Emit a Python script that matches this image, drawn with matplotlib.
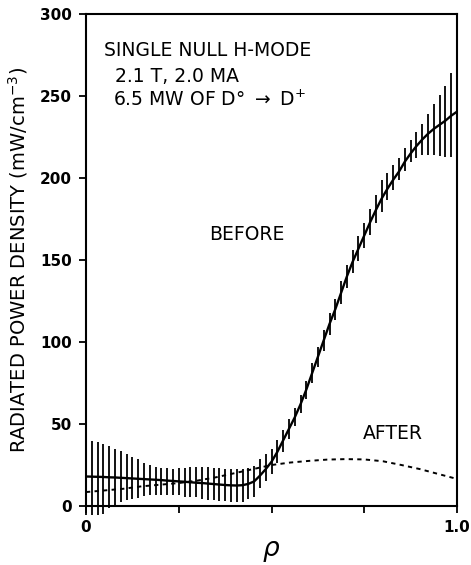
import numpy as np
import matplotlib.pyplot as plt

# radiated power density profile, before/after
rho = np.linspace(0, 1, 65)   # measurement grid, 1/64 spacing

power_before = [18.0, 17.9, 17.8, 17.7, 17.5, 17.4, 17.2, 17.0, 16.8, 16.6,
                16.4, 16.2, 16.0, 15.8, 15.5, 15.3, 15.0, 14.8, 14.5, 14.2,
                14.0, 13.7, 13.4, 13.1, 12.8, 12.6, 12.5, 12.7, 13.5, 15.0,
                18.5, 22.5, 27.0, 33.0, 40.0, 47.0, 54.0, 62.0, 71.0, 81.0,
                91.0, 101.0, 111.0, 120.0, 130.0, 140.0, 149.0, 157.0, 165.0, 173.0,
                180.5, 187.5, 193.5, 199.0, 204.0, 210.0, 215.0, 219.5, 223.5, 227.0,
                230.0, 232.5, 235.0, 238.0, 240.5]

err_plus = [23.0, 22.0, 21.0, 20.0, 19.0, 17.5, 16.5, 14.5, 13.0, 12.0,
            10.0, 9.0, 8.0, 7.5, 7.5, 7.5, 8.0, 8.5, 9.0, 9.5,
            9.5, 10.0, 10.0, 10.0, 10.0, 10.0, 10.0, 10.0, 9.5, 9.5,
            10.0, 9.5, 8.0, 7.0, 6.5, 6.0, 5.5, 5.5, 5.5, 6.0,
            6.0, 6.5, 6.5, 6.5, 7.0, 7.0, 7.0, 7.5, 7.5, 8.0,
            9.0, 11.0, 9.5, 9.0, 8.5, 8.5, 8.0, 8.5, 9.5, 12.0,
            15.0, 18.0, 21.0, 26.0, 27.5]

err_minus = [23.5, 23.4, 23.0, 22.5, 18.5, 16.5, 14.5, 13.5, 12.5, 11.5,
             10.5, 9.5, 9.0, 9.0, 8.5, 8.5, 8.5, 9.0, 9.0, 9.0,
             9.5, 10.0, 10.0, 10.0, 10.0, 10.0, 10.0, 10.0, 9.0, 9.5,
             7.5, 7.5, 7.5, 7.0, 7.0, 6.0, 5.5, 5.5, 5.5, 6.0,
             6.0, 6.5, 6.5, 6.5, 7.0, 7.0, 7.0, 7.5, 7.5, 8.0,
             8.0, 8.0, 7.0, 6.5, 5.5, 6.0, 5.5, 7.5, 9.5, 13.0,
             16.0, 19.0, 22.0, 25.0, 28.5]

rho_after = [0.00, 0.05, 0.10, 0.15, 0.20, 0.25, 0.30, 0.35, 0.40, 0.45,
             0.50, 0.55, 0.60, 0.65, 0.70, 0.75, 0.80, 0.85, 0.90, 0.95, 1.00]
power_after = [8.5, 9.5, 10.5, 12.0, 13.0, 14.0, 15.5, 17.5, 20.0, 22.5,
               25.0, 26.5, 27.5, 28.3, 28.6, 28.4, 27.3, 25.0, 22.5, 19.5, 16.5]

fig = plt.figure(figsize=(4.71, 5.65), dpi=100)
ax = fig.add_axes([0.1826, 0.1044, 0.7878, 0.8708])

ax.plot(rho, power_before, color='black', lw=1.7)
eb = ax.errorbar(rho, power_before, yerr=[err_minus, err_plus], fmt='none',
                 ecolor='black', elinewidth=1.3, capsize=0)
for col in eb.lines[2]:
    col.set_clip_on(False)
ax.plot(rho_after, power_after, color='black', lw=1.4, linestyle=(0, (2.2, 2.2)))

ax.set_xlim(0, 1.0)
ax.set_ylim(0, 300)
ax.set_xticks([0, 0.25, 0.5, 0.75, 1.0])
ax.set_xticklabels(['0', '', '', '', '1.0'])
ax.set_yticks([0, 50, 100, 150, 200, 250, 300])
ax.tick_params(direction='out', length=5, width=1.3, pad=5, labelsize=11)
for lab in ax.get_xticklabels() + ax.get_yticklabels():
    lab.set_fontweight('bold')
for sp in ax.spines.values():
    sp.set_linewidth(1.5)

ax.set_xlabel(r'$\rho$', fontsize=19, labelpad=2)
ax.set_ylabel(r'RADIATED POWER DENSITY (mW/cm$^{-3}$)', fontsize=14, labelpad=7)

ax.text(0.0485, 0.925, 'SINGLE NULL H-MODE', transform=ax.transAxes,
        fontsize=13.5, va='center', ha='left')
ax.text(0.078, 0.874, '2.1 T, 2.0 MA', transform=ax.transAxes,
        fontsize=13.5, va='center', ha='left')
ax.text(0.073, 0.825, r'6.5 MW OF D° $\rightarrow$ D$^{+}$', transform=ax.transAxes,
        fontsize=13.5, va='center', ha='left')
ax.text(0.434, 0.551, 'BEFORE', transform=ax.transAxes,
        fontsize=13.5, va='center', ha='center')
ax.text(0.827, 0.148, 'AFTER', transform=ax.transAxes,
        fontsize=13.5, va='center', ha='center')

fig.savefig('out.png', dpi=100)
